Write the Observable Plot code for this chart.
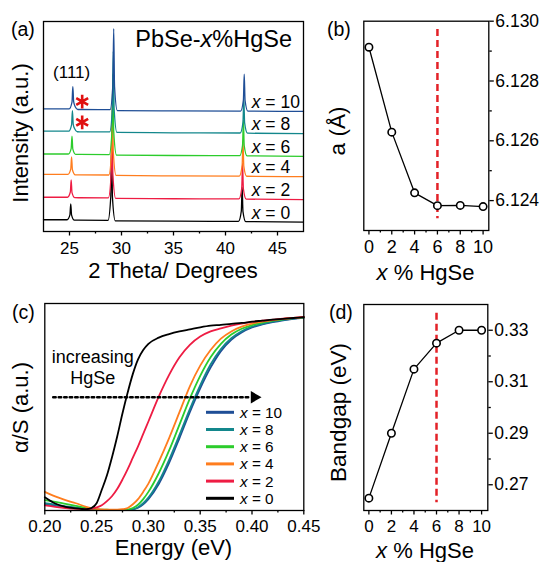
<!DOCTYPE html>
<html><head><meta charset="utf-8">
<script src="https://cdn.jsdelivr.net/npm/d3@7"></script>
<script src="https://cdn.jsdelivr.net/npm/@observablehq/plot@0.6"></script>
<style>
body{margin:0;background:#fff;}
#fig{position:relative;width:541px;height:562px;background:#fff;}
</style></head><body><div id="fig"></div>
<script>
const FONT = '"Liberation Sans", Arial, Helvetica, sans-serif';

// ---------- shared ----------
const seriesLabels = ["_x_ = 0", "_x_ = 2", "_x_ = 4", "_x_ = 6", "_x_ = 8", "_x_ = 10"];
const seriesColors = ["#000000", "#ee1c43", "#ff7d1e", "#2ccc2c", "#13878c", "#1f4e96"];
const hgx = [0, 2, 4, 6, 8, 10];

// ---------- (a) XRD patterns: [2theta, intensity a.u. (stacked)] ----------
const xrd0 = [[22.5,5.6],[24.77,5.6],[25.04,7.9],[25.12,13.2],[25.20,7.8],[25.47,5.4],[28.70,5.3],[28.97,16.7],[29.05,43.3],[29.13,16.3],[29.40,5.1],[35.0,4.9],[41.25,4.8],[41.52,9.7],[41.60,21.1],[41.68,9.5],[41.95,4.7],[47.5,4.5]];
const xrd2 = [[22.5,16.3],[24.81,16.3],[25.08,18.8],[25.16,24.6],[25.24,18.5],[25.51,16.1],[28.74,16.0],[29.01,27.7],[29.09,55.0],[29.17,27.3],[29.44,15.8],[35.0,15.6],[41.29,15.5],[41.56,20.6],[41.64,32.5],[41.72,20.3],[41.99,15.4],[47.5,15.2]];
const xrd4 = [[22.5,27.2],[24.85,27.2],[25.12,29.7],[25.20,35.5],[25.28,29.4],[25.55,27.0],[28.78,26.9],[29.05,38.5],[29.13,65.4],[29.21,38.1],[29.48,26.7],[35.0,26.5],[41.33,26.4],[41.60,31.5],[41.68,43.4],[41.76,31.2],[42.03,26.3],[47.5,26.1]];
const xrd6 = [[22.5,36.9],[24.89,36.9],[25.16,39.5],[25.24,45.4],[25.32,39.2],[25.59,36.7],[28.82,36.6],[29.09,48.2],[29.17,75.1],[29.25,47.8],[29.52,36.4],[35.0,36.2],[41.37,36.1],[41.64,41.2],[41.72,53.1],[41.80,40.9],[42.07,36.0],[47.5,35.8]];
const xrd8 = [[22.5,47.8],[24.93,47.8],[25.20,50.8],[25.28,57.6],[25.36,51.0],[25.50,48.9],[25.75,47.5],[28.86,47.4],[29.13,59.0],[29.21,85.9],[29.29,58.6],[29.56,47.2],[35.0,47.0],[41.41,46.9],[41.68,52.0],[41.76,63.9],[41.84,51.7],[42.11,46.8],[47.5,46.6]];
const xrd10 = [[22.5,58.4],[24.97,58.4],[25.24,61.6],[25.32,69.0],[25.40,61.8],[25.55,59.4],[25.80,58.1],[28.90,58.0],[29.17,69.6],[29.25,96.6],[29.33,69.2],[29.60,57.6],[35.0,57.4],[41.45,57.3],[41.72,62.6],[41.80,74.9],[41.88,62.5],[42.15,57.3],[47.5,57.2]];
const xrdSeries = [xrd0, xrd2, xrd4, xrd6, xrd8, xrd10];
const xrdTicks = [25, 30, 35, 40, 45];
const xrdMinor = [27.5, 32.5, 37.5, 42.5];
const stars = [{tt: 26.22, I: 61.9}, {tt: 26.22, I: 52.0}];
const peakLabel = [{tt: 25.25, text: "(111)"}];

// ---------- (b) lattice constant ----------
const latticeA = [6.12913, 6.12629, 6.12426, 6.12383, 6.12384, 6.12380];
const latticeTicks = [6.124, 6.126, 6.128, 6.130];
const latticeMinor = [6.125, 6.127, 6.129];
const dashB = [{x: 6, y1: 6.12972, y2: 6.12339}];

// ---------- (c) absorption ----------
const energy = [0.20,0.21,0.22,0.23,0.24,0.245,0.25,0.255,0.26,0.265,0.27,0.275,0.28,0.285,0.29,0.295,0.30,0.31,0.32,0.33,0.34,0.35,0.36,0.37,0.38,0.39,0.40,0.41,0.42,0.43,0.44,0.45];
const abs0  = [0.064,0.034,0.018,0.010,0.006,0.012,0.035,0.10,0.17,0.26,0.36,0.47,0.57,0.66,0.73,0.775,0.805,0.835,0.852,0.865,0.875,0.885,0.893,0.897,0.902,0.906,0.912,0.917,0.922,0.926,0.930,0.934];
const abs2  = [0.025,0.018,0.012,0.008,0.006,0.008,0.015,0.025,0.045,0.07,0.105,0.15,0.20,0.255,0.31,0.37,0.43,0.55,0.655,0.74,0.80,0.84,0.865,0.88,0.893,0.903,0.911,0.917,0.922,0.927,0.931,0.935];
const abs4  = [0.09,0.068,0.05,0.035,0.018,0.012,0.008,0.005,0.004,0.004,0.004,0.006,0.012,0.03,0.055,0.09,0.13,0.235,0.35,0.475,0.60,0.70,0.775,0.83,0.865,0.888,0.903,0.913,0.92,0.926,0.93,0.934];
const abs6  = [0.05,0.042,0.032,0.022,0.012,0.008,0.005,0.004,0.004,0.003,0.003,0.003,0.004,0.012,0.028,0.055,0.09,0.18,0.29,0.415,0.54,0.65,0.74,0.805,0.85,0.878,0.896,0.908,0.917,0.924,0.929,0.933];
const abs8  = [0.035,0.028,0.02,0.014,0.008,0.006,0.004,0.003,0.003,0.003,0.003,0.003,0.003,0.006,0.016,0.035,0.062,0.14,0.245,0.365,0.49,0.605,0.705,0.78,0.832,0.866,0.888,0.902,0.913,0.921,0.927,0.932];
const abs10 = [0.03,0.024,0.018,0.012,0.007,0.005,0.004,0.003,0.003,0.003,0.003,0.003,0.003,0.005,0.013,0.03,0.055,0.128,0.23,0.35,0.475,0.59,0.69,0.77,0.825,0.86,0.884,0.899,0.91,0.919,0.926,0.931];
const absSeries = [abs0, abs2, abs4, abs6, abs8, abs10];
const energyTicks = [0.20, 0.25, 0.30, 0.35, 0.40, 0.45];
const energyMinor = [0.225, 0.275, 0.325, 0.375, 0.425];
const arrowLine = [{E: 0.2081, v: 0.547}, {E: 0.3987, v: 0.547}];
const arrowHead = [{E: 0.4023, v: 0.547}];

// ---------- (d) bandgap ----------
const bandgap = [0.2648, 0.290, 0.3149, 0.325, 0.330, 0.330];
const bandTicks = [0.27, 0.29, 0.31, 0.33];
const bandMinor = [0.28, 0.30, 0.32];
const dashD = [{x: 6, y1: 0.3366, y2: 0.263}];

const pctTicks = [0, 2, 4, 6, 8, 10];
const pctMinor = [1, 3, 5, 7, 9];

// ---------- helpers ----------
const fig = document.getElementById("fig");
const baseStyle = {fontFamily: FONT, color: "black", background: "transparent", overflow: "visible"};
function place(svg, left, top) {
  svg.style.position = "absolute";
  svg.style.left = left + "px";
  svg.style.top = top + "px";
  fig.appendChild(svg);
  return svg;
}
function rich(svg, {x, y, text, size, anchor = "start", rotate = 0, fill = "black"}) {
  const t = d3.select(svg).append("text")
    .attr("transform", `translate(${x},${y})` + (rotate ? ` rotate(${rotate})` : ""))
    .attr("text-anchor", anchor)
    .attr("font-family", FONT)
    .attr("font-size", size)
    .attr("fill", fill);
  text.split(/(_[^_]+_)/).filter(s => s.length).forEach(part => {
    if (/^_.*_$/.test(part)) t.append("tspan").attr("font-style", "italic").text(part.slice(1, -1));
    else t.append("tspan").text(part);
  });
  return t;
}
const ax = (o) => ({label: null, strokeWidth: 1.3, ...o});

// ---------- panel (a) ----------
const plotA = Plot.plot({
  width: 310, height: 290, marginLeft: 43, marginRight: 7, marginTop: 21, marginBottom: 59,
  style: baseStyle,
  x: {domain: [22.5, 47.5]},
  y: {domain: [0, 100], axis: null},
  marks: [
    ...xrdSeries.map((arr, k) => Plot.line(arr, {x: d => d[0], y: d => d[1], stroke: seriesColors[k], strokeWidth: 1.3, curve: "monotone-x"})),
    Plot.dot(stars, {x: "tt", y: "I", symbol: "asterisk", r: 6.5, stroke: "#e01010", strokeWidth: 2.6}),
    Plot.frame({stroke: "black", strokeWidth: 1.3}),
    Plot.axisX(ax({ticks: xrdTicks, tickSize: 4.5, tickPadding: 6, fontSize: 17, tickFormat: d3.format("d")})),
    Plot.axisX(ax({ticks: xrdMinor, tickSize: 2.5, fill: "none"}))
  ]
});
place(plotA, 0, 0);
{
  const sx = plotA.scale("x"), sy = plotA.scale("y");
  rich(plotA, {x: 11, y: 36, text: "(a)", size: 19.5});
  rich(plotA, {x: 292, y: 46.5, text: "PbSe-_x_%HgSe", size: 23.5, anchor: "end"});
  rich(plotA, {x: 28, y: 133, text: "Intensity (a.u.)", size: 22, anchor: "middle", rotate: -90});
  rich(plotA, {x: 173, y: 278, text: "2 Theta/ Degrees", size: 22, anchor: "middle"});
  peakLabel.forEach(p => rich(plotA, {x: sx.apply(p.tt), y: 78, text: p.text, size: 17, anchor: "middle"}));
  xrdSeries.forEach((arr, k) => {
    const yb = sy.apply(arr[arr.length - 1][1]) - 3;
    rich(plotA, {x: 251.7, y: yb, text: seriesLabels[k], size: 17.5});
  });
}

// ---------- panel (b) ----------
const dataB = hgx.map((x, i) => ({x, a: latticeA[i]}));
const plotB = Plot.plot({
  width: 231, height: 290, marginLeft: 53.3, marginRight: 52.7, marginTop: 20.7, marginBottom: 60,
  style: baseStyle,
  x: {domain: [-0.45, 10.5]},
  y: {domain: [6.123, 6.130]},
  marks: [
    Plot.frame({stroke: "black", strokeWidth: 1.3}),
    Plot.axisX(ax({ticks: pctTicks, tickSize: 4.5, tickPadding: 5.5, fontSize: 18, tickFormat: d3.format("d")})),
    Plot.axisX(ax({ticks: pctMinor, tickSize: 2.5, fill: "none"})),
    Plot.axisY(ax({anchor: "right", ticks: latticeTicks, tickSize: 4.5, tickPadding: 2, fontSize: 17.5, tickFormat: d3.format(".3f")})),
    Plot.axisY(ax({anchor: "right", ticks: latticeMinor, tickSize: 2.5, fill: "none"})),
    Plot.ruleX(dashB, {x: "x", y1: "y1", y2: "y2", stroke: "#e32127", strokeWidth: 2.5, strokeDasharray: "7,4"}),
    Plot.line(dataB, {x: "x", y: "a", stroke: "black", strokeWidth: 1.3}),
    Plot.dot(dataB, {x: "x", y: "a", r: 3.7, fill: "white", stroke: "black", strokeWidth: 1.6})
  ]
});
place(plotB, 310, 0);
rich(plotB, {x: 17, y: 36, text: "(b)", size: 19.5});
rich(plotB, {x: 35, y: 131, text: "a (Å)", size: 22.5, anchor: "middle", rotate: -90});
rich(plotB, {x: 115.5, y: 280, text: "_x_ % HgSe", size: 22, anchor: "middle"});

// ---------- panel (c) ----------
const plotC = Plot.plot({
  width: 310, height: 272, marginLeft: 44.3, marginRight: 6.7, marginTop: 13, marginBottom: 52,
  style: baseStyle,
  x: {domain: [0.20, 0.45]},
  y: {domain: [0, 1], axis: null},
  marks: [
    ...[5, 4, 3, 2, 1, 0].map(k => Plot.line(energy, {x: d => d, y: (d, i) => absSeries[k][i], stroke: seriesColors[k], strokeWidth: 1.8, curve: "monotone-x"})),
    Plot.line(arrowLine, {x: "E", y: "v", stroke: "black", strokeWidth: 2.5, strokeDasharray: "2.5,3"}),
    Plot.dot(arrowHead, {x: "E", y: "v", symbol: "triangle", r: 4.6, fill: "black", rotate: 90}),
    Plot.frame({stroke: "black", strokeWidth: 1.3}),
    Plot.axisX(ax({ticks: energyTicks, tickSize: 4.5, tickPadding: 4.5, fontSize: 17, tickFormat: d3.format(".2f")})),
    Plot.axisX(ax({ticks: energyMinor, tickSize: 2.5, fill: "none"}))
  ]
});
place(plotC, 0, 290);
rich(plotC, {x: 12, y: 29, text: "(c)", size: 19.5});
rich(plotC, {x: 28, y: 117.5, text: "α/S (a.u.)", size: 22, anchor: "middle", rotate: -90});
rich(plotC, {x: 173.5, y: 265, text: "Energy (eV)", size: 22, anchor: "middle"});
rich(plotC, {x: 92.7, y: 73.3, text: "increasing", size: 18, anchor: "middle"});
rich(plotC, {x: 92.7, y: 94.3, text: "HgSe", size: 18, anchor: "middle"});
{
  const g = d3.select(plotC).append("g");
  [5, 4, 3, 2, 1, 0].forEach((k, i) => {
    const y = 122.3 + 17.2 * i;
    g.append("line").attr("x1", 206).attr("x2", 234).attr("y1", y).attr("y2", y)
      .attr("stroke", seriesColors[k]).attr("stroke-width", 3);
    rich(plotC, {x: 240, y: y + 5.4, text: seriesLabels[k], size: 15.3});
  });
}

// ---------- panel (d) ----------
const dataD = hgx.map((x, i) => ({x, eg: bandgap[i]}));
const plotD = Plot.plot({
  width: 231, height: 272, marginLeft: 53.3, marginRight: 53.7, marginTop: 14, marginBottom: 52,
  style: baseStyle,
  x: {domain: [-0.45, 10.55]},
  y: {domain: [0.26, 0.34]},
  marks: [
    Plot.frame({stroke: "black", strokeWidth: 1.3}),
    Plot.axisX(ax({ticks: pctTicks, tickSize: 4.5, tickPadding: 5, fontSize: 17, tickFormat: d3.format("d")})),
    Plot.axisX(ax({ticks: pctMinor, tickSize: 2.5, fill: "none"})),
    Plot.axisY(ax({anchor: "right", ticks: bandTicks, tickSize: 4.5, tickPadding: 2, fontSize: 17.5, tickFormat: d3.format(".2f")})),
    Plot.axisY(ax({anchor: "right", ticks: bandMinor, tickSize: 2.5, fill: "none"})),
    Plot.ruleX(dashD, {x: "x", y1: "y1", y2: "y2", stroke: "#e32127", strokeWidth: 2.5, strokeDasharray: "7,4"}),
    Plot.line(dataD, {x: "x", y: "eg", stroke: "black", strokeWidth: 1.3}),
    Plot.dot(dataD, {x: "x", y: "eg", r: 3.7, fill: "white", stroke: "black", strokeWidth: 1.6})
  ]
});
place(plotD, 310, 290);
rich(plotD, {x: 19, y: 29, text: "(d)", size: 19.5});
rich(plotD, {x: 36, y: 122.5, text: "Bandgap (eV)", size: 22.5, anchor: "middle", rotate: -90});
rich(plotD, {x: 115, y: 267.5, text: "_x_ % HgSe", size: 22, anchor: "middle"});
</script></body></html>
